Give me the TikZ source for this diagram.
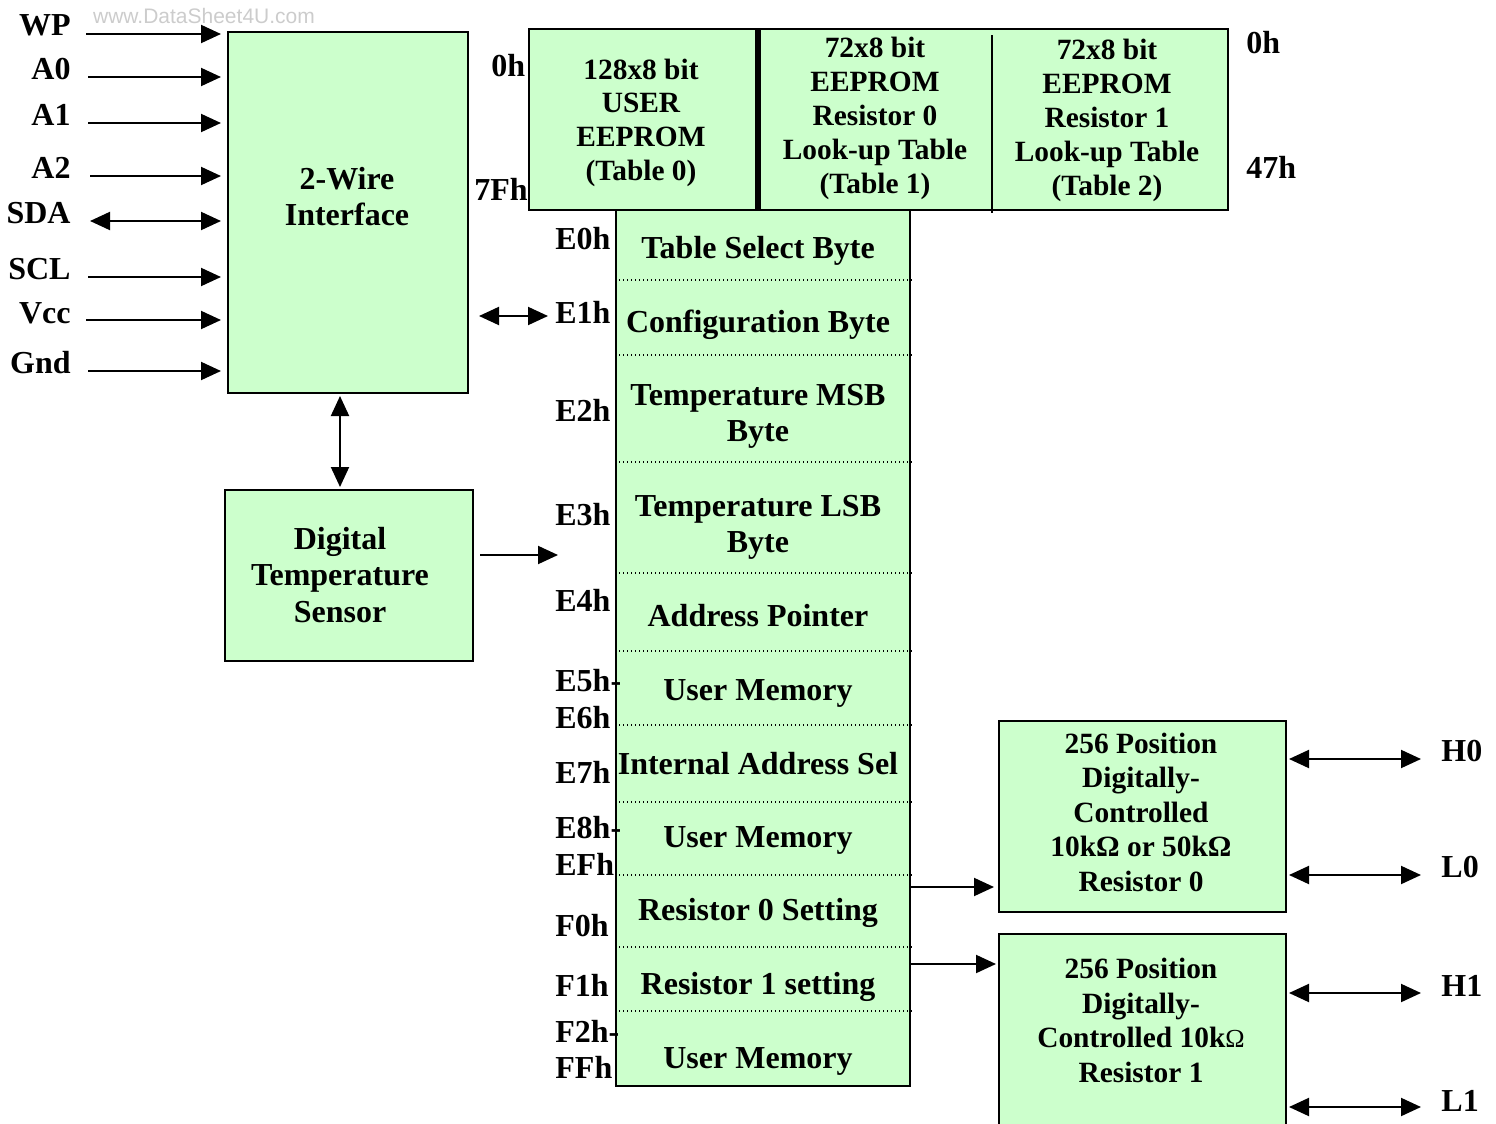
\documentclass[tikz,border=0pt]{standalone}
\usepackage{fontspec}
\setmainfont{Liberation Serif}
\setsansfont{Liberation Sans}
\usetikzlibrary{arrows.meta}
\definecolor{memgreen}{HTML}{CCFFCC}
\begin{document}
\begin{tikzpicture}[x=0.5pt,y=-0.5pt,line join=miter,>={Triangle[length=10pt,width=9pt]},
  blk/.style={draw,line width=1pt,fill=memgreen,inner sep=0pt},
  txt/.style={font=\bfseries\fontsize{16}{17}\selectfont,align=center,inner sep=0pt},
  lsp/.style={font=\bfseries\fontsize{16}{#1}\selectfont},
  small/.style={font=\bfseries\fontsize{14.7}{#1}\selectfont},
  sig/.style={line width=1pt},
  sep/.style={line width=0.6pt,dash pattern=on 0.6pt off 1.4pt}]
  \useasboundingbox (0,0) rectangle (1496,1124);
  \clip (0,0) rectangle (1496,1124);
  \node[font=\sffamily\fontsize{10.5}{12}\selectfont,text=black!20] (mark) at (204,16) {www.DataSheet4U.com};
  \node[blk,minimum width=120pt,minimum height=180.5pt] (wire) at (348,212.5) {};
  \node[txt,lsp=18pt] (wiretxt) at (347,197) {2-Wire\\Interface};
  \node[blk,minimum width=124pt,minimum height=85.5pt] (temp) at (349,575.5) {};
  \node[txt,lsp=18.25pt] (temptxt) at (340,575) {Digital\\Temperature\\Sensor};
  \node[blk,minimum width=147pt,minimum height=438pt] (regs) at (763,648) {};
  \node[blk,minimum width=349.5pt,minimum height=90.5pt] (eeprom) at (878.5,119.5) {};
  \draw[line width=3pt] (758,29) -- (758,210);
  \draw[line width=1pt] (992,35) -- (992,213);
  \node[txt,small=16.85pt] (tab0) at (641,122.5) {128x8 bit\\USER\\EEPROM\\(Table 0)};
  \node[txt,small=17pt] (tab1) at (875,118) {72x8 bit\\EEPROM\\Resistor 0\\Look-up Table\\(Table 1)};
  \node[txt,small=16.9pt] (tab2) at (1107,120.5) {72x8 bit\\EEPROM\\Resistor 1\\Look-up Table\\(Table 2)};
  \node[txt,anchor=base west] (lo0) at (491,76) {0h};
  \node[txt,anchor=base west] (lo7f) at (474,200) {7Fh};
  \node[txt,anchor=base west] (hi0) at (1246,54) {0h};
  \node[txt,anchor=base west] (hi47) at (1246,178) {47h};
  \node[blk,minimum width=143.5pt,minimum height=95.5pt] (res0) at (1142.5,816.5) {};
  \node[txt,small=17.25pt] (res0txt) at (1141,812) {256 Position\\Digitally-\\Controlled\\10kΩ or 50kΩ\\Resistor 0};
  \node[blk,minimum width=143.5pt,minimum height=103pt] (res1) at (1142.5,1037) {};
  \node[txt,small=17.25pt] (res1txt) at (1141,1020.5) {256 Position\\Digitally-\\Controlled 10k{\fontsize{13}{13}\selectfont\mdseries Ω}\\Resistor 1};
  \foreach \sy in {280,355,462,573,651,725,802,875,947,1011}
    \draw[sep] (regs.west |- 0,\sy) -- (912,\sy);
  \foreach \rt/\ry [count=\i] in {Table Select Byte/251, Configuration Byte/325,
      {Temperature MSB\\Byte}/416, {Temperature LSB\\Byte}/527, Address Pointer/616,
      User Memory/693, Internal Address Sel/764, User Memory/840,
      Resistor 0 Setting/913, Resistor 1 setting/987, User Memory/1061}
    \node[txt,lsp=18pt] (row\i) at (758,\ry) {\rt};
  \foreach \at/\ab [count=\i] in {E0h/249, E1h/323, E2h/421, E3h/525, E4h/611, E5h-/691,
      E6h/728, E7h/783, E8h-/838, EFh/875, F0h/936, F1h/996, F2h-/1042, FFh/1078}
    \node[txt,anchor=base west] (addr\i) at (555,\ab) {\at};
  \foreach \lab/\ly/\ay/\sx [count=\i] in {WP/35/34/86, A0/79/77/88, A1/125/123/88,
      A2/178/176/90, SDA/223/221/90, SCL/279/277/88, Vcc/323/320/86, Gnd/373/371/88} {
    \node[txt,anchor=base east] (pin\i) at (71,\ly) {\lab};
    \coordinate (pa\i) at (\sx,\ay);
  }
  \foreach \i in {1,2,3,4,6,7,8}
    \draw[sig,->,shorten >=3pt] (pa\i) -- (pa\i -| wire.west);
  \draw[sig,<->,shorten >=3pt] (pa5) -- (pa5 -| wire.west);
  \coordinate (busin) at (548,316);
  \draw[sig,<->,shorten <=5pt] (wire.east |- busin) -- (busin);
  \draw[sig,<->,shorten <=1pt,shorten >=1pt] (wire.south -| 340,0) -- (temp.north -| 340,0);
  \coordinate (tempin) at (558,555);
  \draw[sig,->,shorten <=3pt] (temp.east |- tempin) -- (tempin);
  \draw[sig,->,shorten >=2pt] (regs.east |- 0,887) -- (res0.west |- 0,887);
  \draw[sig,->,shorten >=1pt] (regs.east |- 0,964) -- (res1.west |- 0,964);
  \foreach \lab/\ay/\ab/\bx in {H0/759/761/res0, L0/875/877/res0, H1/993/996/res1, L1/1107/1111/res1} {
    \node[txt,anchor=base west] (out\lab) at (1441,\ab) {\lab};
    \draw[sig,<->,shorten <=1pt] (\bx.east |- 0,\ay) -- (1421,\ay);
  }
\end{tikzpicture}
\end{document}
